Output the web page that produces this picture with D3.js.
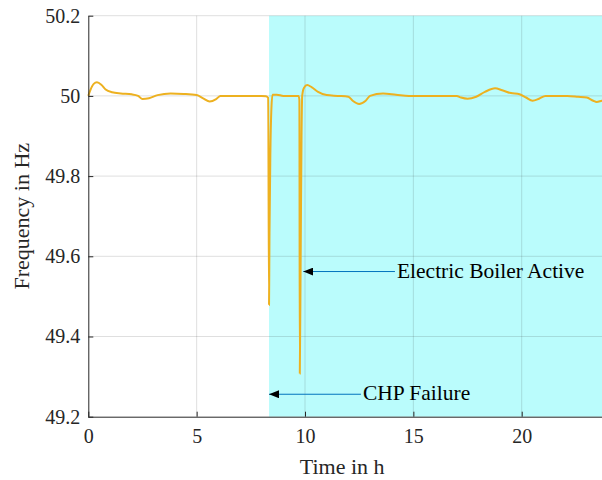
<!DOCTYPE html>
<html lang="en">
<head>
<meta charset="UTF-8">
<title>Frequency in Hz</title>
<script src="https://d3js.org/d3.v7.min.js"></script>
<style>
  body { margin: 0; padding: 0; background: #fff; overflow: hidden; }
  .axis path, .axis line { stroke: #262626; }
</style>
</head>
<body>
<svg id="chart" width="602" height="480"></svg>
<script>
// time in h
const timeH = [0, 0.1, 0.25, 0.4, 0.6, 0.8, 1.1, 1.5, 2.0, 2.3, 2.5, 2.8, 3.2, 3.8, 4.4, 5.0, 5.3, 5.6, 5.9, 6.1,
  7.0, 8.0, 8.2, 8.3, 8.34, 8.36, 8.40, 8.45, 8.50, 8.7, 9.0, 9.70, 9.74, 9.76, 9.80, 9.84, 9.87,
  9.95, 10.1, 10.3, 10.6, 11.0, 11.5, 12.0, 12.2, 12.5, 12.8, 13.0, 13.6, 14.2, 14.8, 16.0, 17.0,
  17.2, 17.5, 17.9, 18.3, 18.77, 19.1, 19.5, 19.9, 20.2, 20.5, 20.8, 21.1, 22.1, 22.6, 23.0, 23.3,
  23.46, 23.7, 24.0];
// grid frequency in Hz
const freqHz = [50.000, 50.015, 50.030, 50.034, 50.028, 50.016, 50.009, 50.006, 50.004, 50.000, 49.992, 49.994,
  50.002, 50.006, 50.005, 50.002, 49.994, 49.986, 49.992, 50.000,
  50.000, 50.000, 49.999, 49.995, 49.479, 49.650, 49.850, 49.970, 50.003, 50.003, 50.000, 50.000, 49.990,
  49.308, 49.600, 49.900, 50.000,
  50.020, 50.027, 50.022, 50.010, 50.002, 50.000, 49.998, 49.988, 49.980, 49.988, 50.000, 50.006, 50.003,
  50.000, 50.000, 50.000,
  49.996, 49.993, 49.998, 50.010, 50.019, 50.014, 50.007, 50.004, 49.996, 49.988, 49.993, 50.000, 50.000,
  49.998, 49.996, 49.988, 49.985, 49.988, 49.990];

const xTicks = [0, 5, 10, 15, 20];
const yTicks = [49.2, 49.4, 49.6, 49.8, 50, 50.2];
const shadeSpan = [8.34, 24];   // highlighted period
// annotations: [tip time, tail time, frequency, text]
const annotations = [
  [9.92, 14.15, 49.562, "Electric Boiler Active"],
  [8.34, 12.58, 49.256, "CHP Failure"]
];

const FONT = "Liberation Serif";
const svg = d3.select("#chart");
const x = d3.scaleLinear().domain([0, 24]).range([88.3, 608.4]);
const y = d3.scaleLinear().domain([49.2, 50.2]).range([416.7, 15.7]);

// shaded patch
svg.append("rect")
  .attr("x", x(shadeSpan[0]))
  .attr("y", y(50.2))
  .attr("width", x(shadeSpan[1]) - x(shadeSpan[0]))
  .attr("height", y(49.2) - y(50.2))
  .attr("fill", "#bafcfc");

// grid
const grid = svg.append("g").attr("stroke", "#262626").attr("stroke-opacity", 0.15);
grid.selectAll(".gx").data(xTicks.slice(1)).enter().append("line")
  .attr("x1", d => x(d)).attr("x2", d => x(d))
  .attr("y1", y(49.2)).attr("y2", y(50.2));
grid.selectAll(".gy").data(yTicks.slice(1)).enter().append("line")
  .attr("x1", x(0)).attr("x2", 602)
  .attr("y1", d => y(d)).attr("y2", d => y(d));

// frequency line
const data = timeH.map((t, i) => [t, freqHz[i]]);
svg.append("path")
  .datum(data)
  .attr("fill", "none")
  .attr("stroke", "#EDB120")
  .attr("stroke-width", 2)
  .attr("d", d3.line().x(d => x(d[0])).y(d => y(d[1])).curve(d3.curveMonotoneX));

// axes (ticks point inward)
svg.append("g")
  .attr("class", "axis")
  .attr("transform", `translate(0,${y(49.2)})`)
  .call(d3.axisBottom(x).tickValues(xTicks).tickSizeInner(-5).tickSizeOuter(0).tickPadding(12))
  .call(g => g.select(".domain").attr("d", `M${x(0)},0.5H602`));

svg.append("g")
  .attr("class", "axis")
  .attr("transform", `translate(${x(0)},0)`)
  .call(d3.axisLeft(y).tickValues(yTicks).tickFormat(d3.format("~g")).tickSizeInner(-5).tickSizeOuter(0).tickPadding(8));

svg.selectAll(".axis").attr("font-family", FONT).attr("font-size", 20);
svg.selectAll(".tick text").attr("fill", "#262626").attr("font-family", FONT);

// axis labels
svg.append("text")
  .attr("x", (x(0) + 602) / 2 - 3)
  .attr("y", 474)
  .attr("text-anchor", "middle")
  .attr("font-family", FONT)
  .attr("font-size", 22)
  .attr("fill", "#262626")
  .text("Time in h");

svg.append("text")
  .attr("transform", `translate(29,${(y(49.2) + y(50.2)) / 2}) rotate(-90)`)
  .attr("text-anchor", "middle")
  .attr("font-family", FONT)
  .attr("font-size", 22)
  .attr("fill", "#262626")
  .text("Frequency in Hz");

// arrow annotations
svg.append("defs").append("marker")
  .attr("id", "head")
  .attr("viewBox", "0 0 10 8")
  .attr("refX", 10).attr("refY", 4)
  .attr("markerWidth", 10).attr("markerHeight", 8)
  .attr("markerUnits", "userSpaceOnUse")
  .attr("orient", "auto")
  .append("path").attr("d", "M0,0L10,4L0,8Z").attr("fill", "#000");

const ann = svg.selectAll(".ann").data(annotations).enter().append("g");
ann.append("line")
  .attr("x1", d => x(d[1])).attr("x2", d => x(d[0]))
  .attr("y1", d => y(d[2])).attr("y2", d => y(d[2]))
  .attr("stroke", "#0072BD").attr("stroke-width", 1)
  .attr("marker-end", "url(#head)");
ann.append("text")
  .attr("x", d => x(d[1]) + 2)
  .attr("y", d => y(d[2]) + 6)
  .attr("font-family", FONT)
  .attr("font-size", 21.5)
  .attr("fill", "#000")
  .text(d => d[3]);
</script>
</body>
</html>
